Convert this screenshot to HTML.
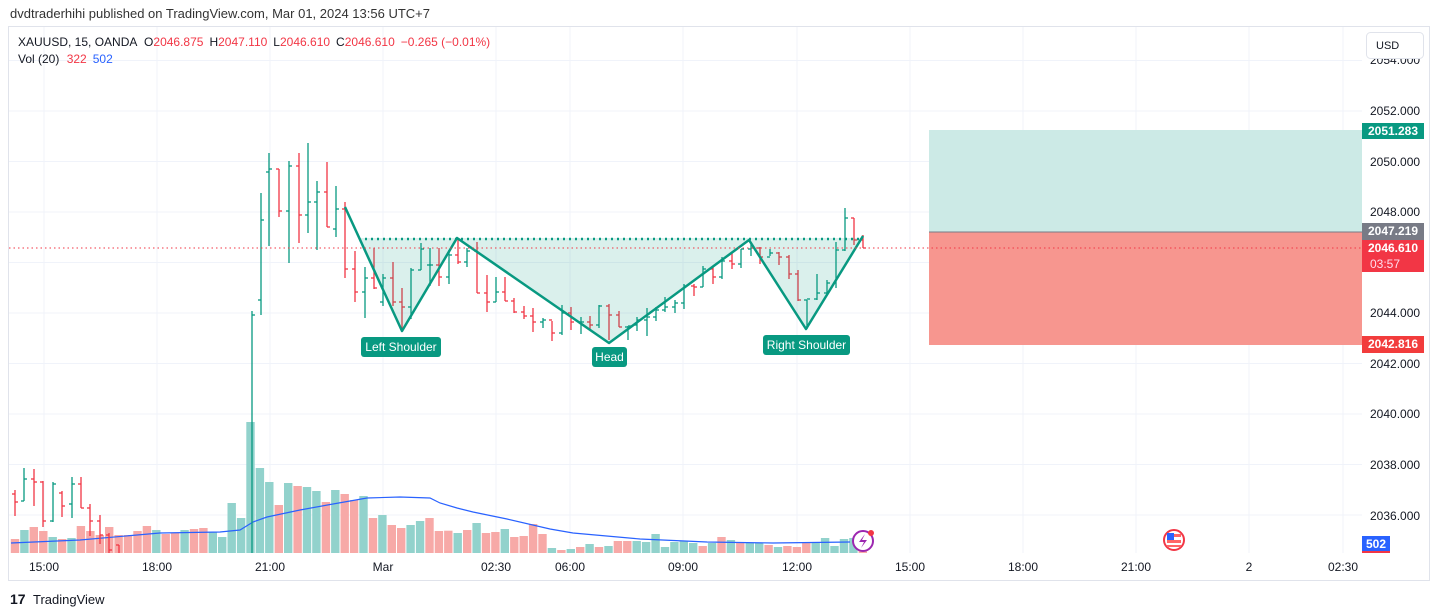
<!DOCTYPE html>
<html><head><meta charset="utf-8"><style>
body{margin:0;width:1438px;height:616px;background:#fff;overflow:hidden;font-family:"Liberation Sans",sans-serif;}
svg{position:absolute;left:0;top:0}
</style></head><body>
<svg id="s" width="1438" height="616" xmlns="http://www.w3.org/2000/svg" font-family="Liberation Sans, sans-serif"></svg>
<script>
const S=document.getElementById('s');let h='';
const G='#089981',R='#f23645';
h+=`<rect x="8.5" y="26.5" width="1421" height="554" fill="#fff" stroke="#e0e3eb"/>`;
const py=p=>111+(2052-p)*25.25;
[2054,2052,2050,2048,2046,2044,2042,2040,2038,2036].forEach(p=>{h+=`<line x1="9" x2="1362" y1="${py(p)}" y2="${py(p)}" stroke="#f0f3fa"/>`;});
[44,157,270,383,496,570,683,797,910,1023,1136,1249,1343].forEach(x=>{h+=`<line x1="${x}" x2="${x}" y1="27" y2="553" stroke="#f0f3fa"/>`;});
h+=`<rect x="929" y="130" width="433" height="102" fill="#cceae6"/>`;
h+=`<rect x="929" y="232" width="433" height="113" fill="#f7968f"/>`;
h+=`<line x1="929" x2="1362" y1="232" y2="232" stroke="#787b86"/>`;
const v4=[[417,'r'],[390,'g'],[381,'r'],[393,'r'],[411,'g'],[417,'r'],[414,'g'],[378,'r'],[393,'r'],[405,'r'],[381,'r'],[405,'r'],[405,'r'],[393,'r'],[378,'r'],[390,'g'],[402,'r'],[399,'r'],[390,'g'],[387,'r'],[384,'r'],[396,'g'],[411,'g'],[309,'g'],[354,'g'],[66,'g'],[204,'g'],[246,'g'],[315,'r'],[249,'g'],[258,'r'],[261,'g'],[273,'g'],[306,'r'],[270,'g'],[282,'r'],[300,'r'],[288,'g'],[354,'r'],[345,'g'],[375,'r'],[384,'r'],[375,'g'],[363,'g'],[354,'r'],[393,'r']];
const v5=[[272,'r'],[279,'g'],[270,'r'],[249,'g'],[279,'r'],[276,'r'],[267,'g'],[291,'r'],[288,'r'],[252,'r'],[282,'r'],[324,'g'],[330,'r'],[327,'g'],[321,'r'],[312,'g'],[321,'r'],[318,'g'],[303,'r'],[303,'r'],[303,'g'],[306,'g'],[282,'g'],[321,'g'],[306,'g'],[303,'g'],[309,'g'],[318,'r'],[309,'g'],[291,'r'],[300,'g'],[309,'r'],[309,'g'],[309,'g'],[315,'r'],[321,'g'],[318,'r'],[321,'r'],[309,'r'],[309,'g'],[294,'g'],[318,'g'],[297,'g'],[294,'g'],[300,'r']];
const vols=v4.map(a=>[400+a[0]/3,a[1]]).concat(v5.map(a=>[440+a[0]/3,a[1]]));
vols.forEach((a,i)=>{const x=15+i*9.42;h+=`<rect x="${(x-4.2).toFixed(1)}" y="${a[0].toFixed(1)}" width="8.4" height="${(553-a[0]).toFixed(1)}" fill="${a[1]=='g'?'#92d2cc':'#f7a9a7'}"/>`;});
h+=`<polyline fill="none" stroke="#2962ff" stroke-width="1.2" points="11,543 80,540 160,533 220,532 240,530 253,522 267,517 300,510 333,504 367,498 400,497 430,498 440,503 457,508 473,512 507,519 550,529 573,533 640,539 707,542 773,543 850,542"/>`;
const C=[[15,494,490,516,502],[24,501,468,501,479],[34,479,469,506,482],[43,482,481,527,521],[53,521,482,522,484],[62,493,491,517,506],[72,504,477,518,484],[81,484,477,508,508],[90,508,504,536,521],[100,521,515,544,535],[109,535,533,553,550],[119,545,545,553,553],
[252,560,311,560,315],[261,300,193,315,220],[269,172,153,246,169],[279,169,169,217,211],[289,211,161,263,166],[299,166,153,243,215],[308,215,143,233,202],[317,202,181,250,192],[327,192,162,227,227],[336,229,186,237,209],[345,209,202,278,269],[355,269,251,302,292],[365,292,267,318,278],[374,278,248,289,288],[383,302,274,306,278],[393,278,262,306,302],[402,302,288,331,307],[411,307,268,319,270],[421,270,243,270,249],[430,265,248,286,265],[439,265,248,286,277],[449,277,250,284,255],[458,255,238,264,262],[467,262,248,267,251],[477,251,242,293,293],[487,293,275,312,302],[496,302,277,302,292],[505,292,277,301,301],[514,301,298,313,312],[524,312,306,319,316],[533,316,308,332,322],[543,322,318,328,320],[552,320,321,341,333],[562,333,305,335,313],[571,313,307,330,322],[581,322,317,334,322],[590,322,316,329,325],[599,325,305,328,306],[609,306,304,340,315],[619,315,311,327,327],[628,327,326,340,326],[637,325,317,331,320],[647,320,308,336,317],[656,317,307,321,310],[665,310,297,312,307],[675,307,300,313,303],[684,303,284,309,286],[694,286,284,296,287],[703,287,266,287,269],[713,269,267,284,277],[722,277,257,279,261],[732,261,253,269,264],[741,264,249,268,249],[751,249,242,256,248],[760,248,247,264,257],[770,257,249,256,253],[779,253,252,265,257],[789,257,255,279,274],[798,274,270,301,300],[807,300,300,329,299],[817,299,274,300,293],[827,293,280,294,283],[836,283,242,288,250],[845,250,208,251,218],[854,218,218,245,240],[863,240,235,248,248]];
C.forEach(c=>{const [x,o,hi,lo,cl]=c;const col=cl<=o?G:R;
h+=`<g stroke="${col}" stroke-width="1.3"><line x1="${x}" x2="${x}" y1="${hi}" y2="${Math.min(lo,553)}"/>`;
if(o<553)h+=`<line x1="${x-3}" x2="${x}" y1="${o}" y2="${o}"/>`;
if(cl<553)h+=`<line x1="${x}" x2="${x+3}" y1="${cl}" y2="${cl}"/></g>`;else h+='</g>';});
h+=`<polygon points="359,238 402,331 457,238 609,343 749,240 806,329 863,236 863,238" fill="rgba(8,153,129,0.15)"/>`;
h+=`<line x1="365" x2="862" y1="239" y2="239" stroke="${G}" stroke-width="2.5" stroke-dasharray="2,4"/>`;
h+=`<polyline points="345,207 402,331 457,238 609,343 749,240 806,329 863,236" fill="none" stroke="${G}" stroke-width="2.5" stroke-linejoin="round"/>`;
h+=`<line x1="9" x2="1362" y1="248" y2="248" stroke="${R}" stroke-dasharray="1.5,3"/>`;
function lab(x,y,w,t){h+=`<rect x="${x}" y="${y}" width="${w}" height="20" rx="3" fill="${G}"/><text x="${x+w/2}" y="${y+14}" fill="#fff" font-size="12" text-anchor="middle">${t}</text>`;}
lab(361,337,80,'Left Shoulder');lab(592,347,35,'Head');lab(763,335,87,'Right Shoulder');
[[2054,60],[2052,111],[2050,162],[2048,212],[2044,313],[2042,364],[2040,414],[2038,465],[2036,516]].forEach(a=>{h+=`<text x="1370" y="${a[1]+4}" font-size="12" fill="#131722">${a[0]}.000</text>`;});
function badge(y,hh,col,t,t2){h+=`<rect x="1362" y="${y}" width="62" height="${hh}" fill="${col}"/><text x="1393" y="${y+12}" fill="#fff" font-size="12" font-weight="bold" text-anchor="middle">${t}</text>`;if(t2)h+=`<text x="1370" y="${y+28}" fill="#fde" font-size="12">${t2}</text>`;}
badge(123,16,G,'2051.283');badge(223,17,'#787b86','2047.219');badge(240,32,R,'2046.610','03:57');badge(336,17,'#f23c3c','2042.816');
h+=`<rect x="1362" y="536" width="28" height="16" fill="#2962ff"/><rect x="1362" y="551" width="28" height="2" fill="${R}"/><text x="1376" y="548" fill="#fff" font-size="12" font-weight="bold" text-anchor="middle">502</text>`;
h+=`<rect x="1366.5" y="32.5" width="57" height="26" rx="4" fill="#fff" stroke="#e0e3eb"/><text x="1376" y="49" font-size="11" fill="#131722">USD</text>`;
[[44,'15:00'],[157,'18:00'],[270,'21:00'],[383,'Mar'],[496,'02:30'],[570,'06:00'],[683,'09:00'],[797,'12:00'],[910,'15:00'],[1023,'18:00'],[1136,'21:00'],[1249,'2'],[1343,'02:30']].forEach(a=>{h+=`<text x="${a[0]}" y="571" font-size="12" fill="#131722" text-anchor="middle">${a[1]}</text>`;});
h+=`<circle cx="863" cy="541" r="10" fill="#fff" stroke="#9c27b0" stroke-width="2"/><path d="M865,534 L859,542 L864,542 L861,548 L867,540 L862,540 Z" fill="#9c27b0"/><circle cx="871" cy="533" r="3" fill="${R}"/>`;
h+=`<circle cx="1174" cy="540" r="10" fill="#fff" stroke="${R}" stroke-width="2"/><rect x="1167" y="534" width="14" height="3" fill="#f66"/><rect x="1167" y="540" width="14" height="3" fill="#f66"/><rect x="1167" y="545" width="14" height="2" fill="#f66"/><rect x="1167" y="533" width="7" height="7" fill="#2962ff"/>`;
h+=`<text x="10" y="18" font-size="13" fill="#333">dvdtraderhihi published on TradingView.com, Mar 01, 2024 13:56 UTC+7</text>`;
h+=`<text x="18" y="46" font-size="12" fill="#131722">XAUUSD, 15, OANDA  <tspan dx="4">O</tspan><tspan fill="${R}">2046.875</tspan><tspan dx="6">H</tspan><tspan fill="${R}">2047.110</tspan><tspan dx="6">L</tspan><tspan fill="${R}">2046.610</tspan><tspan dx="6">C</tspan><tspan fill="${R}">2046.610</tspan><tspan dx="6" fill="${R}">−0.265 (−0.01%)</tspan></text>`;
h+=`<text x="18" y="63" font-size="12" fill="#131722">Vol (20) <tspan dx="4" fill="${R}">322</tspan><tspan dx="6" fill="#2962ff">502</tspan></text>`;
h+=`<text x="10" y="604" font-size="14" font-weight="bold" fill="#131722">17</text><text x="33" y="604" font-size="13" fill="#131722">TradingView</text>`;
S.innerHTML=h;
</script>
</body></html>
